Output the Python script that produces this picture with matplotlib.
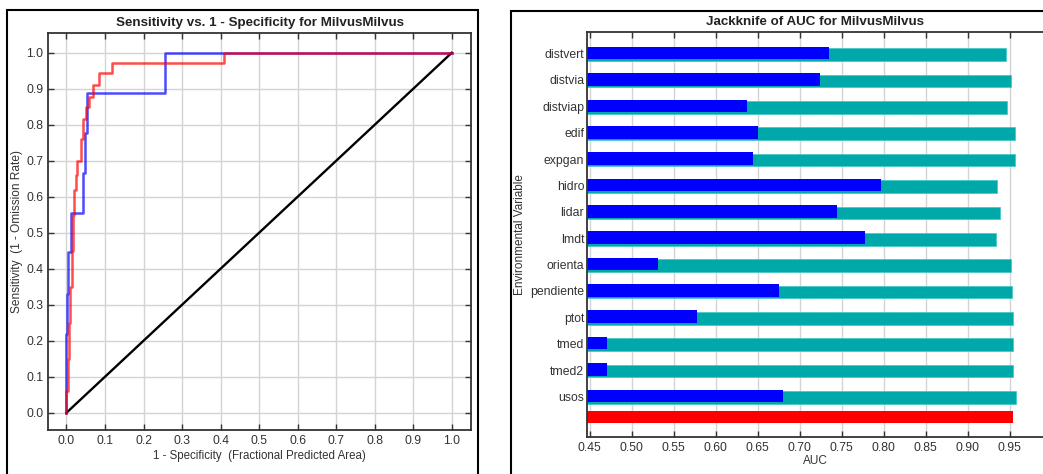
import matplotlib.pyplot as plt
from matplotlib.patches import Rectangle

plt.rcParams['font.family'] = ['Liberation Sans', 'DejaVu Sans']

# ROC curve vertices (x = fractional predicted area, y = sensitivity)
test_fpr = [0.0, 0.0, 0.0026, 0.004, 0.011, 0.043, 0.048, 0.052, 0.255, 1.0]
test_tpr = [0.0, 0.22, 0.33, 0.447, 0.554, 0.665, 0.776, 0.889, 1.0, 1.0]
train_fpr = [0.0, 0.0, 0.003, 0.006, 0.010, 0.014, 0.017, 0.020, 0.024, 0.027,
             0.038, 0.042, 0.050, 0.058, 0.069, 0.084, 0.117, 0.409, 1.0]
train_tpr = [0.0, 0.06, 0.15, 0.25, 0.35, 0.45, 0.55, 0.62, 0.66, 0.70,
             0.76, 0.815, 0.85, 0.878, 0.91, 0.943, 0.971, 1.0, 1.0]

# jackknife
variables = ['distvert', 'distvia', 'distviap', 'edif', 'expgan', 'hidro', 'lidar',
             'lmdt', 'orienta', 'pendiente', 'ptot', 'tmed', 'tmed2', 'usos']
auc_only = [0.735, 0.724, 0.637, 0.650, 0.645, 0.797, 0.745,
            0.778, 0.531, 0.676, 0.578, 0.471, 0.471, 0.680]
auc_without = [0.945, 0.951, 0.947, 0.956, 0.956, 0.935, 0.938,
               0.933, 0.951, 0.953, 0.954, 0.954, 0.954, 0.957]
auc_all = 0.954

W, H = 1043, 474
fig = plt.figure(figsize=(W / 100, H / 100), dpi=100)

txt = '#333333'
grid_c = '#d4d4d4'


def style(ax):
    for s in ax.spines.values():
        s.set_color('#333333')
        s.set_linewidth(1.3)
    ax.tick_params(direction='in', length=4, width=1, color='#333333',
                   labelcolor=txt, labelsize=8.8, top=True, right=True)
    ax.grid(True, color=grid_c, linewidth=1)
    ax.set_axisbelow(True)


# panel borders
fig.patches.append(Rectangle((7 / W, -0.05), 471 / W, 1.05 - 10 / H, transform=fig.transFigure,
                             fill=False, edgecolor='black', linewidth=1.5))
fig.patches.append(Rectangle((511 / W, -0.05), 0.6, 1.05 - 11 / H, transform=fig.transFigure,
                             fill=False, edgecolor='black', linewidth=1.5))

# left: ROC
ax1 = fig.add_axes([48 / W, 44 / H, 423 / W, 397 / H])
style(ax1)
ax1.plot([0, 1], [0, 1], color='black', linewidth=1.7)
ax1.plot(test_fpr, test_tpr, drawstyle='steps-post', color='#0000ff', alpha=0.7, linewidth=1.8)
ax1.plot(train_fpr, train_tpr, drawstyle='steps-post', color='#ff0000', alpha=0.7, linewidth=1.8)
ax1.set_xlim(-0.048, 1.05)
ax1.set_ylim(-0.048, 1.055)
ticks = [i / 10 for i in range(11)]
ax1.set_xticks(ticks)
ax1.set_yticks(ticks)
ax1.set_xticklabels([f'{t:.1f}' for t in ticks])
ax1.set_yticklabels([f'{t:.1f}' for t in ticks])
ax1.set_title('Sensitivity vs. 1 - Specificity for MilvusMilvus', fontsize=9.6,
              fontweight='bold', color='#222222', pad=5)
ax1.set_xlabel('1 - Specificity  (Fractional Predicted Area)', fontsize=8.3, color=txt, labelpad=2)
ax1.set_ylabel('Sensitivity  (1 - Omission Rate)', fontsize=8.6, color=txt, labelpad=2)

# right: jackknife
xmin, xmax = 0.447, 0.9895
ax2 = fig.add_axes([587 / W, 37 / H, (W - 587) / W, 405 / H])
style(ax2)
ax2.spines['right'].set_visible(False)
ax2.tick_params(right=False)
ax2.grid(axis='y', visible=False)
ax2.set_xlim(xmin, xmax)
ax2.set_ylim(14.54, -0.82)
rows = list(range(len(variables)))
h = 0.48
ax2.barh([r + 0.04 for r in rows], [v - xmin for v in auc_without], left=xmin, height=h,
         color='#00a9a9', edgecolor='#3fc7c7', linewidth=0.5)
ax2.barh([r - 0.02 for r in rows], [v - xmin for v in auc_only], left=xmin, height=h,
         color='#0000ff', linewidth=0)
ax2.barh([13.78], [auc_all - xmin], left=xmin, height=h, color='#ff0000', linewidth=0)
ax2.set_yticks(rows)
ax2.set_yticklabels(variables)
ax2.tick_params(axis='y', length=0, pad=2)
xt = [0.45 + 0.05 * i for i in range(11)]
ax2.set_xticks(xt)
ax2.set_xticklabels([f'{t:.2f}' for t in xt])
ax2.set_title('Jackknife of AUC for MilvusMilvus', fontsize=9.6, fontweight='bold',
              color='#222222', pad=5)
ax2.set_xlabel('AUC', fontsize=8.5, color=txt, labelpad=1)
ax2.set_ylabel('Environmental Variable', fontsize=8.5, color=txt, labelpad=3)

fig.savefig('out.png', dpi=100)
